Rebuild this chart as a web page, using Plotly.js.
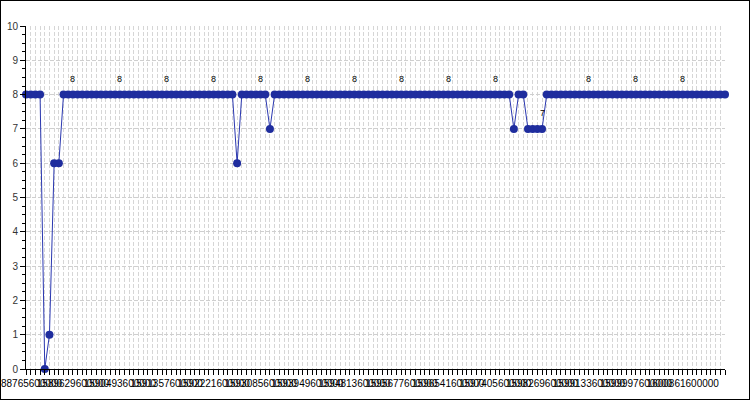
<!DOCTYPE html>
<html>
<head>
<meta charset="utf-8">
<script src="https://cdn.plot.ly/plotly-3.0.1.min.js"></script>
<style>
  html, body { margin: 0; padding: 0; background: #fff; }
  #wrap { position: relative; width: 750px; height: 400px; }
  #chart { width: 750px; height: 400px; }
  #frame { position: absolute; left: 0; top: 0; width: 748px; height: 398px; border: 1px solid #000; pointer-events: none; }
</style>
</head>
<body>
<div id="wrap"><div id="chart"></div><div id="frame"></div></div>
<script>
// Series values, one per sample
const values = [
  8, 8, 8, 8, 0, 1, 6, 6, 8, 8,
  8, 8, 8, 8, 8, 8, 8, 8, 8, 8,
  8, 8, 8, 8, 8, 8, 8, 8, 8, 8,
  8, 8, 8, 8, 8, 8, 8, 8, 8, 8,
  8, 8, 8, 8, 8, 6, 8, 8, 8, 8,
  8, 8, 7, 8, 8, 8, 8, 8, 8, 8,
  8, 8, 8, 8, 8, 8, 8, 8, 8, 8,
  8, 8, 8, 8, 8, 8, 8, 8, 8, 8,
  8, 8, 8, 8, 8, 8, 8, 8, 8, 8,
  8, 8, 8, 8, 8, 8, 8, 8, 8, 8,
  8, 8, 8, 8, 7, 8, 8, 7, 7, 7,
  7, 8, 8, 8, 8, 8, 8, 8, 8, 8,
  8, 8, 8, 8, 8, 8, 8, 8, 8, 8,
  8, 8, 8, 8, 8, 8, 8, 8, 8, 8,
  8, 8, 8, 8, 8, 8, 8, 8, 8, 8
];

// Tick labels, shown on every 10th sample
const tickLabels = [
  "1588765600000", "1589629600000", "1590493600000", "1591357600000",
  "1592221600000", "1593085600000", "1593949600000", "1594813600000",
  "1595677600000", "1596541600000", "1597405600000", "1598269600000",
  "1599133600000", "1599997600000", "1600861600000"
];
const labelEvery = 10;

const xs = values.map((v, i) => i);
const tickVals = tickLabels.map((t, k) => k * labelEvery);

const annotations = [];
values.forEach((v, i) => {
  if (i > 0 && i % labelEvery === 0) {
    annotations.push({
      x: i, y: v, xref: 'x', yref: 'y', text: String(v), showarrow: false,
      yshift: 16, font: { family: 'Liberation Sans, Arial, sans-serif', size: 9, color: '#000' }
    });
  }
});

const trace = {
  x: xs, y: values, type: 'scatter', mode: 'lines+markers',
  line: { color: '#2b38b0', width: 1 },
  marker: { color: '#1f2d9e', size: 8 },
  cliponaxis: false, hoverinfo: 'skip'
};

const gridDash = '4px,2px';
const layout = {
  width: 750, height: 400,
  margin: { l: 26, r: 25, t: 26, b: 31, pad: 0 },
  paper_bgcolor: '#fff', plot_bgcolor: '#fff',
  showlegend: false,
  font: { family: 'Liberation Sans, Arial, sans-serif', size: 10, color: '#222' },
  xaxis: {
    range: [0, values.length - 1],
    tickmode: 'array', tickvals: tickVals, ticktext: tickLabels,
    tickangle: 0, ticklabeloverflow: 'allow',
    ticks: 'outside', ticklen: 5, tickcolor: '#000', tickwidth: 1,
    tickfont: { family: 'Liberation Sans Narrow, Liberation Sans, Arial, sans-serif', size: 10, color: '#000' },
    showline: true, linecolor: '#000', linewidth: 1,
    showgrid: true, gridcolor: '#d6d6d6', griddash: gridDash, gridwidth: 1,
    zeroline: false,
    minor: { tickmode: 'linear', tick0: 0, dtick: 1, ticks: 'outside', ticklen: 5, tickcolor: '#000',
             showgrid: true, gridcolor: '#d6d6d6', griddash: gridDash, gridwidth: 1 }
  },
  yaxis: {
    range: [0, 10], tickmode: 'linear', tick0: 0, dtick: 1,
    ticks: 'outside', ticklen: 5, tickcolor: '#000',
    tickfont: { family: 'Liberation Sans, Arial, sans-serif', size: 10, color: '#333' },
    showline: true, linecolor: '#000', linewidth: 1,
    showgrid: true, gridcolor: '#cfcfcf', griddash: gridDash, gridwidth: 1,
    zeroline: false,
    minor: { tickmode: 'linear', tick0: 0, dtick: 0.25, ticks: 'outside', ticklen: 3, tickcolor: '#000', showgrid: false }
  },
  annotations: annotations
};

Plotly.newPlot('chart', [trace], layout, { displayModeBar: false, staticPlot: true });
</script>
</body>
</html>
